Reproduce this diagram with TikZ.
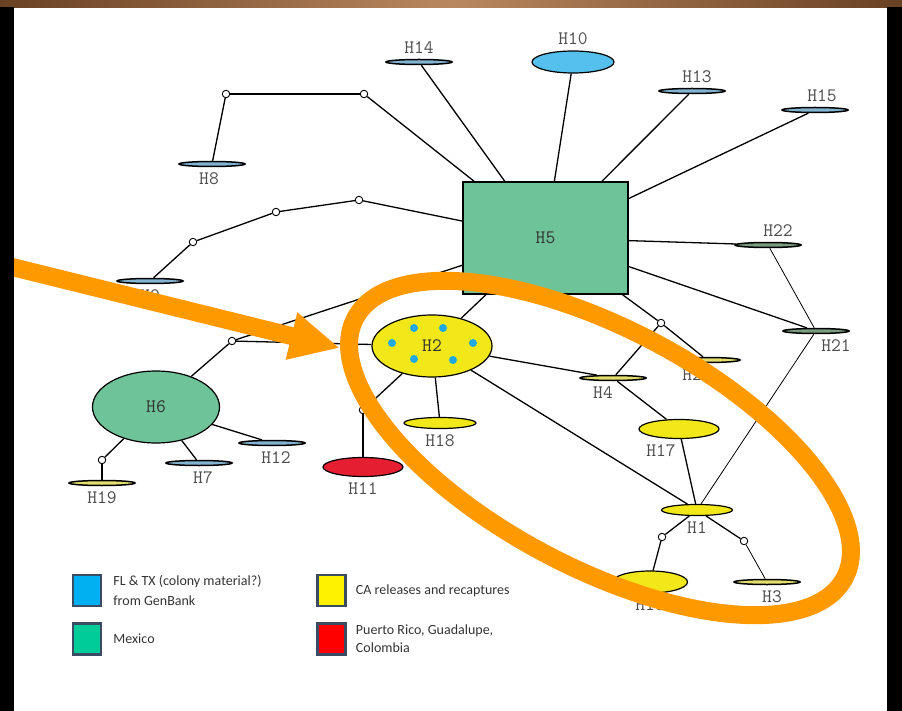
\documentclass[tikz,border=0pt]{standalone}
\usepackage{fontspec}
\newfontfamily\legendfont{Carlito}
\usetikzlibrary{positioning,calc,arrows.meta,shapes}

\definecolor{hapgreen}{RGB}{110,195,152}
\definecolor{hapblue}{RGB}{85,192,238}
\definecolor{hapyellow}{RGB}{242,232,25}
\definecolor{hapred}{RGB}{230,30,50}
\definecolor{dotblue}{RGB}{30,170,225}
\definecolor{barblue}{RGB}{130,180,210}
\definecolor{bargreen}{RGB}{120,155,130}
\definecolor{baryellow}{RGB}{228,222,110}
\definecolor{legblue}{RGB}{0,176,240}
\definecolor{leggreen}{RGB}{0,204,153}
\definecolor{legedge}{RGB}{60,75,100}
\definecolor{calloutorange}{RGB}{255,153,0}
\definecolor{frameA}{RGB}{105,65,35}
\definecolor{frameB}{RGB}{185,135,95}

\begin{document}
\begin{tikzpicture}[
        x=1pt, y=-1pt,
        label distance=5pt,
        tag/.style={font=\fontsize{19}{19}\selectfont\ttfamily, text=black!70, inner sep=0pt},
        hap/.style={draw, ellipse, line width=1.2pt, inner sep=0pt, font=\fontsize{19}{19}\selectfont\ttfamily, text=black!80},
        bar/.style={draw, ellipse, line width=1.5pt, minimum width=66pt, minimum height=5pt, inner sep=0pt},
        med/.style={draw, circle, fill=white, line width=0.9pt, minimum size=7.5pt, inner sep=0pt},
        link/.style={line width=1.3pt},
        faint/.style={line width=0.8pt},
        legbox/.style={draw=legedge, line width=2.5pt, minimum width=28pt, minimum height=31pt},
        legtext/.style={font=\fontsize{14}{20}\selectfont\legendfont, text=black!80, align=left, inner sep=0pt},
        callout/.style={draw=calloutorange, line width=18pt}
      ]
      \useasboundingbox (0,0) rectangle (902,711);

      % haplotypes
      \node (H5) at (545.5,238) [draw, fill=hapgreen, line width=1.3pt, minimum width=165pt, minimum height=112pt, font=\fontsize{19}{19}\selectfont\ttfamily, text=black!80] {H5};
      \node (H10) at (573,62) [hap, fill=hapblue, minimum width=82pt, minimum height=22pt, label={[tag]above:H10}] {};
      \node (H14) at (419,62) [bar, fill=barblue, label={[tag]above:H14}] {};
      \node (H13) at (692,91) [bar, fill=barblue, label={[tag,xshift=5pt]above:H13}] {};
      \node (H15) at (815,110) [bar, fill=barblue, label={[tag,xshift=7pt]above:H15}] {};
      \node (H8) at (212,164) [bar, fill=barblue, label={[tag,xshift=-3pt]below:H8}] {};
      \node (H9) at (150,281) [bar, fill=barblue, label={[tag]below:H9}] {};
      \node (H22) at (768,245) [bar, fill=bargreen, label={[tag,xshift=10pt]above:H22}] {};
      \node (H21) at (816,331) [bar, fill=bargreen, label={[tag,xshift=20pt]below:H21}] {};
      \node (H20) at (707,360) [bar, fill=baryellow, label={[tag,xshift=-10pt]below:H20}] {};
      \node (H4) at (613,378) [bar, fill=baryellow, label={[tag,xshift=-10pt]below:H4}] {};
      \node (H2) at (432,346) [hap, fill=hapyellow, minimum width=120pt, minimum height=62pt] {H2};
      \node (H18) at (440,423) [hap, fill=hapyellow, minimum width=72pt, minimum height=11pt, label={[tag]below:H18}] {};
      \node (H11) at (363,467) [hap, fill=hapred, minimum width=80pt, minimum height=19pt, label={[tag]below:H11}] {};
      \node (H6) at (156,407) [hap, fill=hapgreen, minimum width=127pt, minimum height=72pt] {H6};
      \node (H7) at (199,463) [bar, fill=barblue, label={[tag,xshift=4pt]below:H7}] {};
      \node (H12) at (272,443) [bar, fill=barblue, label={[tag,xshift=4pt]below:H12}] {};
      \node (H19) at (102,483) [bar, fill=baryellow, label={[tag]below:H19}] {};
      \node (H17) at (679,429) [hap, fill=hapyellow, minimum width=80pt, minimum height=19pt, label={[tag,xshift=-18pt]below:H17}] {};
      \node (H1) at (697,510) [hap, fill=hapyellow, minimum width=71pt, minimum height=11pt, label={[tag]below:H1}] {};
      \node (H16) at (650,582) [hap, fill=hapyellow, minimum width=75pt, minimum height=22pt, label={[tag]below:H16}] {};
      \node (H3) at (767,582) [bar, fill=baryellow, label={[tag,xshift=5pt]below:H3}] {};

      \foreach \dx/\dy in {-18/-18, 11/-18, -40/-3, 41/-3, -18/13, 21/14}
        \fill[dotblue] ($(H2)+(\dx,\dy)$) circle (4pt);

      % median vectors
      \node (M1) at (226,94) [med] {};
      \node (M2) at (364,94) [med] {};
      \node (M3) at (193,242) [med] {};
      \node (M4) at (276,212) [med] {};
      \node (M5) at (359,200) [med] {};
      \node (M6) at (232,341) [med] {};
      \node (M7) at (363,410) [med] {};
      \node (M8) at (102,460) [med] {};
      \node (M9) at (661,323) [med] {};
      \node (M10) at (662,537) [med] {};
      \node (M11) at (744,541) [med] {};

      \path[link]
        (H5) edge (H14) edge (H10) edge (H13) edge (H15)
        (H5) edge (H22) edge (H21) edge (M9) edge (H2) edge (M5) edge (M6) edge (M2)
        (H8) edge (M1) (M1) edge (M2)
        (H9) edge (M3) (M3) edge (M4) (M4) edge (M5)
        (H6) edge (M6) (M6) edge (H2)
        (H6) edge (H12) edge (H7) edge (M8) (M8) edge (H19)
        (H2) edge (M7) edge (H18) edge (H4) edge (H1) (M7) edge (H11)
        (M9) edge (H4) edge (H20) (H4) edge (H17) (H17) edge (H1)
        (H1) edge (M10) edge (M11) (M10) edge (H16);
      \path[faint]
        (H22) edge (H21) (H21) edge (H1) (M11) edge (H3);

      % legend
      \node (LB1) at (87,590.5) [legbox, fill=legblue] {};
      \node (LB2) at (87,639) [legbox, fill=leggreen] {};
      \node (LB3) at (331.5,590.5) [legbox, fill=yellow] {};
      \node (LB4) at (331.5,639) [legbox, fill=red] {};
      \node (LT1) [legtext, right=11pt of LB1] {FL \& TX (colony material?)\\from GenBank};
      \node (LT2) [legtext, right=11pt of LB2] {Mexico};
      \node (LT3) [legtext, right=9pt of LB3] {CA releases and recaptures};
      \node (LT4) [legtext, right=9pt of LB4, font=\fontsize{14}{18}\selectfont\legendfont] {Puerto Rico, Guadalupe,\\Colombia};

      % highlight
      \coordinate (AS) at (0,264);
      \coordinate (AT) at (340,348);
      \draw[callout, line width=18pt, -{Triangle[length=50pt, width=45pt]}] (AS) -- (AT);
      \draw[callout, rotate around={-28:(600,448)}] (600,448) ellipse [x radius=277pt, y radius=119pt];

      % frame
      \shade[left color=frameA, right color=frameA, middle color=frameB] (0,0) rectangle (902,8);
      \fill[black] (0,7) rectangle (14,711);
      \fill[black] (887,7) rectangle (902,711);
    \end{tikzpicture}
\end{document}
